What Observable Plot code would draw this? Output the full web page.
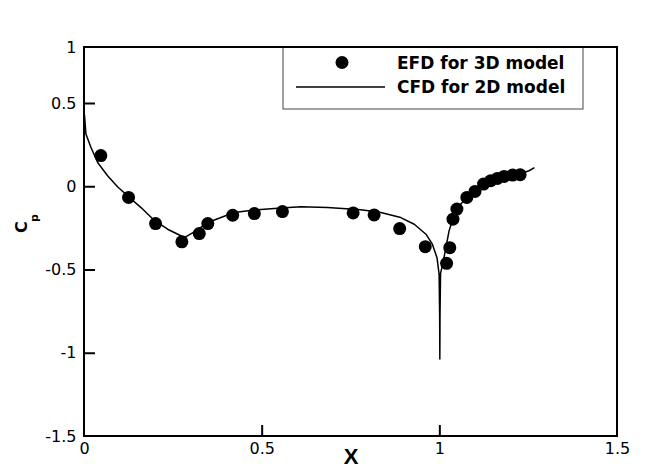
<!DOCTYPE html>
<html><head><meta charset="utf-8">
<script src="https://cdn.jsdelivr.net/npm/d3@7"></script>
<script src="https://cdn.jsdelivr.net/npm/@observablehq/plot@0.6"></script>
<style>body{margin:0;background:#fff}</style>
</head><body><div id="chart"></div>
<script>
// EFD for 3D model (markers)
const efdX = [0.046, 0.124, 0.200, 0.274, 0.323, 0.347, 0.417, 0.478, 0.557, 0.756, 0.815, 0.887, 0.959, 1.019, 1.028, 1.037, 1.048, 1.076, 1.099, 1.123, 1.143, 1.162, 1.181, 1.205, 1.226];
const efdY = [0.187, -0.064, -0.221, -0.331, -0.281, -0.221, -0.171, -0.161, -0.149, -0.157, -0.169, -0.251, -0.360, -0.460, -0.366, -0.195, -0.134, -0.064, -0.028, 0.016, 0.036, 0.050, 0.062, 0.070, 0.072];
// CFD for 2D model (line)
const cfdX = [0, 0.004, 0.018, 0.037, 0.065, 0.093, 0.121, 0.159, 0.196, 0.234, 0.281, 0.309, 0.347, 0.384, 0.421, 0.478, 0.553, 0.609, 0.684, 0.778, 0.834, 0.890, 0.928, 0.961, 0.979, 0.992, 0.998, 0.9995, 1.000, 1.0005, 1.002, 1.008, 1.017, 1.026, 1.038, 1.059, 1.087, 1.125, 1.162, 1.200, 1.237, 1.251, 1.265];
const cfdY = [0.43, 0.317, 0.237, 0.146, 0.066, 0.000, -0.054, -0.125, -0.201, -0.255, -0.305, -0.271, -0.215, -0.185, -0.155, -0.139, -0.128, -0.120, -0.125, -0.138, -0.155, -0.185, -0.225, -0.285, -0.345, -0.426, -0.526, -0.780, -1.035, -0.780, -0.520, -0.466, -0.366, -0.265, -0.185, -0.104, -0.044, 0.006, 0.040, 0.066, 0.086, 0.096, 0.113];
const xTicks = [0, 0.5, 1, 1.5];
const yTicks = [-1.5, -1, -0.5, 0, 0.5, 1];
const legendLabels = ["EFD for 3D model", "CFD for 2D model"];

const efd = efdX.map((x, i) => ({x, y: efdY[i]}));
const cfd = cfdX.map((x, i) => ({x, y: cfdY[i]}));

const W = 645, H = 474, mL = 84, mR = 28, mT = 47, mB = 38;
const pw = W - mL - mR, ph = H - mT - mB;

const plot = Plot.plot({
  width: W, height: H,
  marginLeft: mL, marginRight: mR, marginTop: mT, marginBottom: mB,
  style: {fontFamily: "DejaVu Sans", fontSize: "16px", color: "#000", background: "#fff"},
  x: {domain: [0, 1.5], range: [mL, W - mR]},
  y: {type: "linear", domain: [-1.5, 0.5, 1], range: [H - mB, 103, mT]},
  marks: [
    Plot.line(cfd, {x: "x", y: "y", stroke: "#000", strokeWidth: 1.5}),
    Plot.dot(efd, {x: "x", y: "y", r: 6.5, fill: "#000", stroke: "none"}),
    Plot.ruleY(yTicks.slice(1, -1), {insetRight: pw - 11, stroke: "#000", strokeWidth: 2}),
    Plot.ruleX(xTicks.slice(1, -1), {insetTop: ph - 11, stroke: "#000", strokeWidth: 2}),
    Plot.axisY({ticks: yTicks, tickSize: 0, tickPadding: 8, tickFormat: d => String(d), label: null, fontSize: 16}),
    Plot.axisX({ticks: xTicks, tickSize: 0, tickPadding: 6, tickFormat: d => String(d), label: null, fontSize: 16}),
    Plot.text(["X"], {text: d => d, frameAnchor: "bottom", dy: 27, fontWeight: "bold", fontSize: 22, fontFamily: "Liberation Sans"}),
    Plot.text(["C"], {text: d => d, frameAnchor: "left", dx: -63, dy: -9, rotate: -90, fontWeight: "bold", fontSize: 16}),
    Plot.text(["p"], {text: d => d, frameAnchor: "left", dx: -50, dy: -20, rotate: -90, fontWeight: "bold", fontSize: 11})
  ]
});

const svg = d3.select(plot);
// legend
const lg = svg.append("g").attr("text-anchor", "start");
lg.append("rect").attr("x", 283).attr("y", mT).attr("width", 300).attr("height", 62)
  .attr("fill", "#fff").attr("stroke", "#444").attr("stroke-width", 1);
lg.append("circle").attr("cx", 342).attr("cy", 62.5).attr("r", 6.5).attr("fill", "#000");
lg.append("line").attr("x1", 296).attr("x2", 385).attr("y1", 87).attr("y2", 87)
  .attr("stroke", "#000").attr("stroke-width", 1.5);
[62.5, 87].forEach((y, i) => {
  lg.append("text").attr("x", 397).attr("y", y).attr("dy", "0.36em")
    .attr("text-anchor", "start")
    .attr("font-family", "DejaVu Sans").attr("font-weight", "bold").attr("font-size", 17)
    .attr("fill", "#000").text(legendLabels[i]);
});
// frame on top
svg.append("rect").attr("x", mL).attr("y", mT).attr("width", pw).attr("height", ph)
  .attr("fill", "none").attr("stroke", "#000").attr("stroke-width", 2);

document.getElementById("chart").appendChild(plot);
</script>
</body></html>
